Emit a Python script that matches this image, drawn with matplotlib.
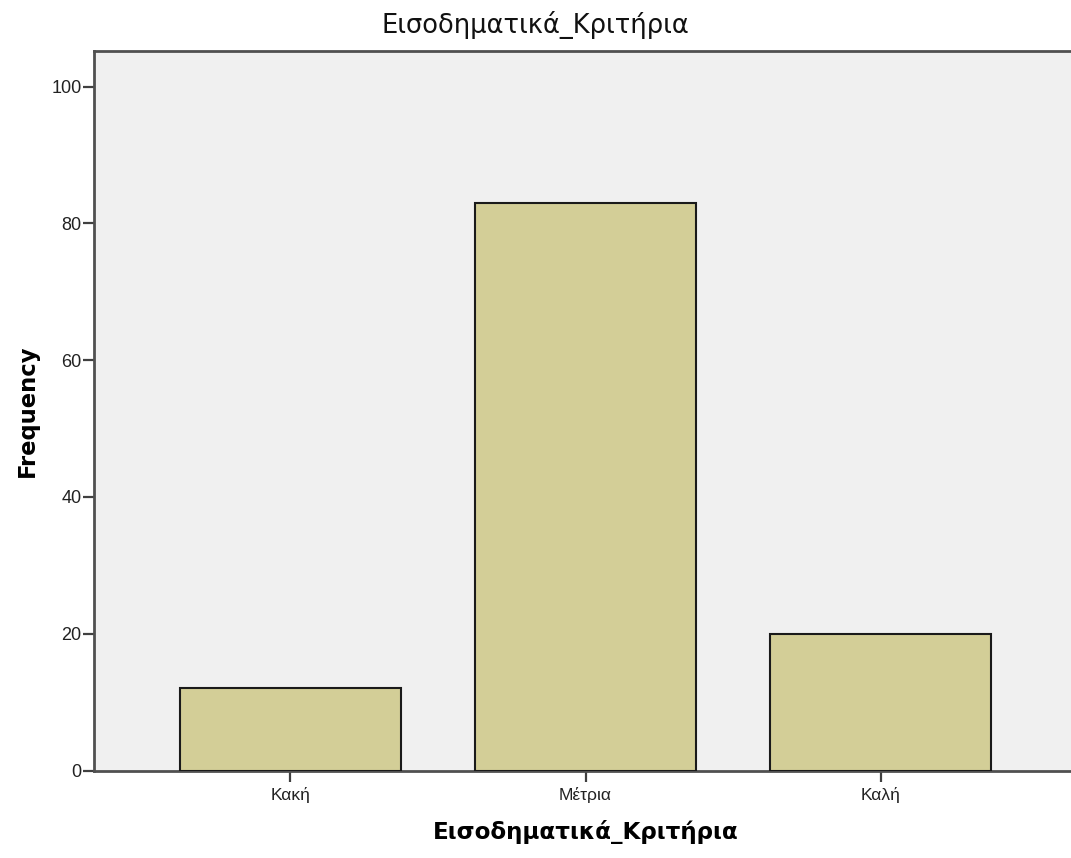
import matplotlib
matplotlib.use("Agg")
import matplotlib.pyplot as plt

categories = ["Κακή", "Μέτρια", "Καλή"]
frequencies = [12, 83, 20]
y_ticks = [0, 20, 40, 60, 80, 100]
title_text = "Εισοδηματικά_Κριτήρια"
xlabel_text = "Εισοδηματικά_Κριτήρια"
ylabel_text = "Frequency"

plt.rcParams['font.family'] = ['Liberation Sans', 'DejaVu Sans']
label_family = ['DejaVu Sans']

W, H = 1071, 858
fig = plt.figure(figsize=(W / 100, H / 100), dpi=100)
ax = fig.add_axes([94 / W, (H - 770.5) / H, (1077 - 94) / W, (770.5 - 50.5) / H])
ax.set_facecolor('#F0F0F0')

x = list(range(len(categories)))
ax.bar(x, frequencies, width=0.75, color='#D3CE97', edgecolor='#1a1a1a', linewidth=1.5, zorder=3)

ax.set_xlim(-0.666, 2.666)
ax.set_ylim(0, 105.3)
ax.set_xticks(x)
ax.set_xticklabels(categories, fontsize=12.5, color='#222222')
ax.set_yticks(y_ticks)
ax.set_yticklabels([str(v) for v in y_ticks], fontsize=13, color='#222222')

for s in ['left', 'bottom', 'top', 'right']:
    ax.spines[s].set_color('#505050')
    ax.spines[s].set_linewidth(2)
ax.tick_params(axis='both', direction='out', length=8, width=1.6, color='#404040')
ax.tick_params(axis='x', pad=4)
ax.tick_params(axis='y', pad=1)

fig.text(0.5, 1 - 33 / H, title_text, fontsize=18.5, family=label_family,
         ha='center', va='baseline', color='#111111')
ax.set_xlabel(xlabel_text, fontsize=16.6, fontweight='bold', family=label_family, labelpad=12)
ax.set_ylabel(ylabel_text, fontsize=16.3, fontweight='bold', family=label_family, labelpad=9)

fig.savefig("out.png", dpi=100)
